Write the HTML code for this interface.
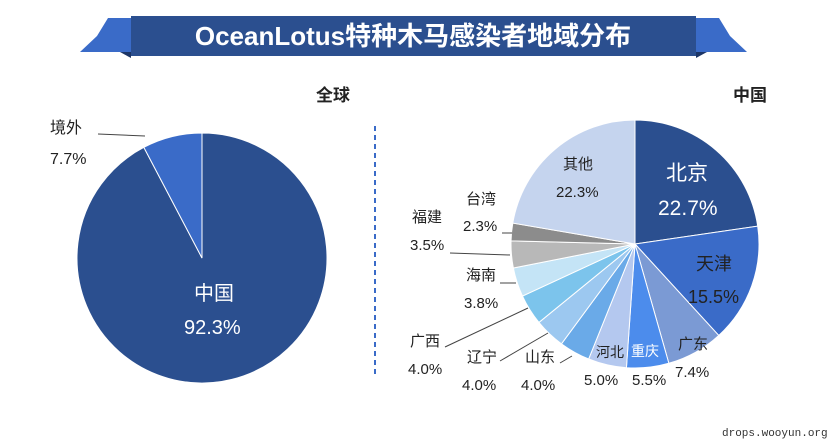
<html><head><style>body{margin:0;background:#fff;width:827px;height:443px;overflow:hidden;font-family:"Liberation Sans","Noto Sans CJK SC",sans-serif}</style></head><body>
<svg id="s" width="827" height="443" xmlns="http://www.w3.org/2000/svg" font-family="Liberation Sans, Noto Sans CJK SC, sans-serif">
<polygon points="108,18 131,18 131,52 80,52 97,36" fill="#3a6bc8"/>
<polygon points="719,18 696,18 696,52 747,52 730,36" fill="#3a6bc8"/>
<polygon points="120,52 131,52 131,58" fill="#1c3566"/>
<polygon points="707,52 696,52 696,58" fill="#1c3566"/>
<rect x="131" y="16" width="565" height="40" fill="#2b4f8f"/>
<text x="413" y="45" text-anchor="middle" fill="#fff" font-size="26" font-weight="bold">OceanLotus特种木马感染者地域分布</text>
<line x1="375" y1="126" x2="375" y2="378" stroke="#3a6bc8" stroke-width="2" stroke-dasharray="5,4"/>
<g id="p"></g>
<g font-size="16" fill="#222">
<text x="316" y="101" font-size="17" font-weight="bold">全球</text><text x="733" y="101" font-size="17" font-weight="bold">中国</text>
<text x="50" y="133">境外</text><text x="50" y="164">7.7%</text>
<text x="194" y="300" fill="#fff" font-size="20">中国</text><text x="184" y="334" fill="#fff" font-size="20">92.3%</text>
<text x="666" y="180" fill="#fff" font-size="21">北京</text><text x="658" y="215" fill="#fff" font-size="21">22.7%</text>
<text x="696" y="270" font-size="18">天津</text><text x="688" y="303" font-size="18">15.5%</text>
<text x="678" y="349" font-size="15">广东</text><text x="675" y="377" font-size="15">7.4%</text>
<text x="631" y="356" font-size="14" fill="#fff">重庆</text><text x="632" y="385" font-size="15">5.5%</text>
<text x="596" y="357" font-size="14">河北</text><text x="584" y="385" font-size="15">5.0%</text>
<text x="525" y="362" font-size="15">山东</text><text x="521" y="390" font-size="15">4.0%</text>
<text x="467" y="362" font-size="15">辽宁</text><text x="462" y="390" font-size="15">4.0%</text>
<text x="410" y="346" font-size="15">广西</text><text x="408" y="374" font-size="15">4.0%</text>
<text x="466" y="280" font-size="15">海南</text><text x="464" y="308" font-size="15">3.8%</text>
<text x="412" y="222" font-size="15">福建</text><text x="410" y="250" font-size="15">3.5%</text>
<text x="466" y="204" font-size="15">台湾</text><text x="463" y="231" font-size="15">2.3%</text>
<text x="563" y="169" font-size="15">其他</text><text x="556" y="197" font-size="15">22.3%</text>
</g>
<g stroke="#444" fill="none" stroke-width="1">
<polyline points="98,134 145,136"/><polyline points="450,253 510,255"/><polyline points="502,233 512,233"/>
<polyline points="500,283 516,283"/><polyline points="445,347 528,308"/><polyline points="500,361 548,333"/><polyline points="560,363 572,356"/>
</g>
<text x="722" y="436" font-size="11" fill="#333" font-family="Liberation Mono, monospace">drops.wooyun.org</text>
</svg>
<script>
var g=document.getElementById('p');
function pie(cx,cy,r,data,dir){var a=0;data.forEach(function(d){var a1=a+dir*d[0]/100*2*Math.PI;var x0=cx+r*Math.sin(a),y0=cy-r*Math.cos(a),x1=cx+r*Math.sin(a1),y1=cy-r*Math.cos(a1);var lg=d[0]>50?1:0;var sw=dir>0?1:0;var p=document.createElementNS('http://www.w3.org/2000/svg','path');p.setAttribute('d','M'+cx+','+cy+'L'+x0+','+y0+'A'+r+','+r+' 0 '+lg+' '+sw+' '+x1+','+y1+'Z');p.setAttribute('fill',d[1]);p.setAttribute('stroke','#fff');p.setAttribute('stroke-width','1');g.appendChild(p);a=a1;});}
pie(202,258,125,[[92.3,'#2b4f8f'],[7.7,'#3a6bc8']],1);
pie(635,244,124,[[22.7,'#2b4f8f'],[15.5,'#3a6bc8'],[7.4,'#7b9ad4'],[5.5,'#4c8cec'],[5.0,'#b4c8ef'],[4.0,'#6aaae8'],[4.0,'#9cc8f0'],[4.0,'#7cc4ec'],[3.8,'#c4e4f6'],[3.5,'#b8b8b8'],[2.3,'#8c8c8c'],[22.3,'#c5d4ee']],1);
</script>
</body></html>
